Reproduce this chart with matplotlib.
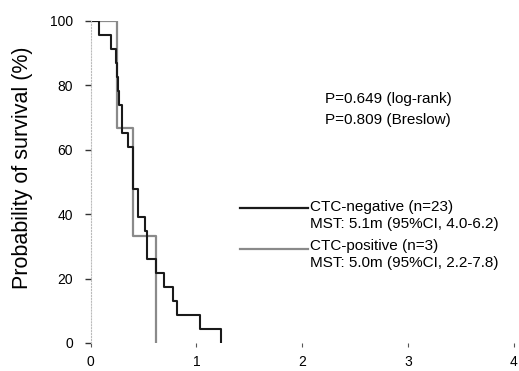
import matplotlib
matplotlib.use("Agg")
import matplotlib.pyplot as plt
from matplotlib.lines import Line2D

plt.rcParams["font.family"] = ["Liberation Sans", "DejaVu Sans"]

# Kaplan-Meier Daten (Zeit in Jahren, Überleben in %)
t_neg = [0, 0.085, 0.195, 0.24, 0.25, 0.26, 0.27, 0.30, 0.35, 0.40, 0.445,
         0.516, 0.538, 0.617, 0.695, 0.782, 0.82, 1.03, 1.233]
s_neg = [100, 95.7, 91.3, 87.0, 82.6, 78.3, 73.9, 65.2, 60.9, 47.8, 39.1,
         34.8, 26.1, 21.7, 17.4, 13.0, 8.7, 4.3, 0]

t_pos = [0, 0.25, 0.40, 0.617]
s_pos = [100, 66.7, 33.3, 0]

x_ticks = [0, 1, 2, 3, 4]
y_ticks = [0, 20, 40, 60, 80, 100]

neg_label = ["CTC-negative (n=23)", "MST: 5.1m (95%CI, 4.0-6.2)"]
pos_label = ["CTC-positive (n=3)", "MST: 5.0m (95%CI, 2.2-7.8)"]
p_text = ["P=0.649 (log-rank)", "P=0.809 (Breslow)"]

fig = plt.figure(figsize=(5.19, 3.71), dpi=100)
ax = fig.add_axes([90.5 / 519, 1 - 343 / 371, 423.5 / 519, 322 / 371])

ax.step(t_pos, s_pos, where="post", color="#8a8a8a", lw=1.6)
ax.step(t_neg, s_neg, where="post", color="#1a1a1a", lw=1.5)

ax.set_xlim(0, 4)
ax.set_ylim(0, 100)
ax.set_xticks(x_ticks)
ax.set_yticks(y_ticks)
ax.tick_params(axis="y", length=4.5, width=1, color="#333333", pad=8, labelsize=10)
ax.tick_params(axis="x", length=3, width=0.8, color="#555555", pad=6, labelsize=10)

for side in ["top", "right", "bottom"]:
    ax.spines[side].set_visible(False)
ax.spines["left"].set_color("#bbbbbb")
ax.spines["left"].set_linestyle(":")
ax.spines["left"].set_linewidth(0.8)

ax.set_ylabel("Probability of survival (%)", fontsize=15.5)
ax.yaxis.set_label_coords(-0.136, 0.543)

# Legende von Hand
for y, col in [(0.419, "#1a1a1a"), (0.292, "#8a8a8a")]:
    ax.add_line(Line2D([0.353, 0.514], [y, y], transform=ax.transAxes,
                       color=col, lw=1.6, clip_on=False))
fs = 11
ax.text(0.518, 0.422, neg_label[0], transform=ax.transAxes, fontsize=fs, va="center")
ax.text(0.518, 0.370, neg_label[1], transform=ax.transAxes, fontsize=fs, va="center")
ax.text(0.518, 0.301, pos_label[0], transform=ax.transAxes, fontsize=fs, va="center")
ax.text(0.518, 0.248, pos_label[1], transform=ax.transAxes, fontsize=fs, va="center")

ax.text(0.553, 0.758, p_text[0], transform=ax.transAxes, fontsize=fs, va="center")
ax.text(0.553, 0.693, p_text[1], transform=ax.transAxes, fontsize=fs, va="center")

fig.savefig("out.png", dpi=100)
